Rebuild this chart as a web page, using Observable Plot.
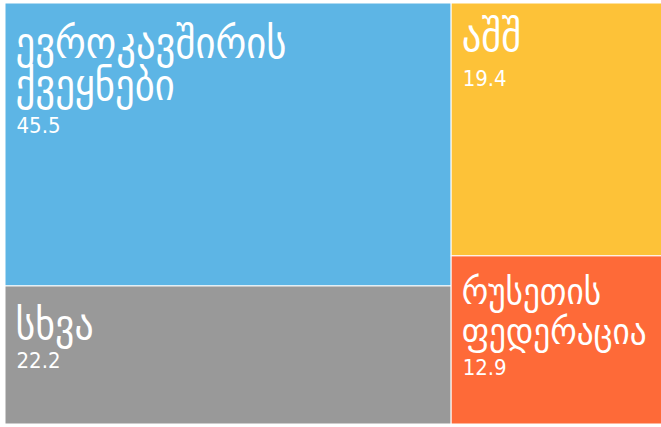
<!DOCTYPE html>
<html><head><meta charset="utf-8">
<script src="https://cdn.jsdelivr.net/npm/d3@7"></script>
<script src="https://cdn.jsdelivr.net/npm/@observablehq/plot@0.6"></script>
<style>
body{margin:0;background:#fff}
g[aria-label="value"] text{letter-spacing:-1.5px}
</style>
</head><body><div id="chart"></div>
<script>
// data
const names = ["ევროკავშირის ქვეყნები", "სხვა", "აშშ", "რუსეთის ფედერაცია"];
const labelLines = [["ევროკავშირის", "ქვეყნები"], ["სხვა"], ["აშშ"], ["რუსეთის", "ფედერაცია"]];
const values = [45.5, 22.2, 19.4, 12.9];
const columns = ["A", "A", "B", "B"];
// styles
const colors = ["#5db5e5", "#999999", "#fdc238", "#fe6a38"];
const nameSizes = [43, 42, 43, 37];
const lineGaps = [43, 43, 43, 40];
const firstBase = [54, 52, 47, 46];
const numGaps = [32, 30, 35, 33];
const numSize = 22;

const items = names.map((n, i) => ({name: n, lines: labelLines[i], value: values[i], col: columns[i], color: colors[i],
  fs: nameSizes[i], gap: lineGaps[i], base: firstBase[i], ng: numGaps[i]}));
const root = d3.hierarchy({children: d3.groups(items, d => d.col).map(([k, v]) => ({children: v}))})
  .sum(d => d.value ?? 0);
d3.treemap().tile(d3.treemapSliceDice).size([1, 1])(root);
const leaves = root.leaves().map(n => ({...n.data, x0: n.x0, x1: n.x1, y0: n.y0, y1: n.y1}));

const font = "'DejaVu Sans Condensed', 'DejaVu Sans', sans-serif";

const chart = Plot.plot({
  width: 661, height: 427, margin: 0,
  x: {domain: [0, 1], range: [5, 664], axis: null},
  y: {domain: [0, 1], range: [3, 424], axis: null},
  color: {type: "identity"},
  style: {background: "#fff"},
  marks: [
    Plot.rect(leaves, {x1: "x0", x2: "x1", y1: "y0", y2: "y1", fill: "color", stroke: "#fff", strokeWidth: 1}),
    ...leaves.map(d => Plot.text([d], {x: "x0", y: "y0", text: d => d.lines.join("\n"), dx: 10, dy: d.base - 0.71 * d.fs,
      textAnchor: "start", lineAnchor: "top", lineHeight: d.gap / d.fs, fill: "#fff", fontSize: d.fs, fontFamily: font})),
    ...leaves.map(d => Plot.text([d], {x: "x0", y: "y0", text: d => String(d.value), dx: 11,
      dy: d.base + (d.lines.length - 1) * d.gap + d.ng - 0.71 * numSize, textAnchor: "start", lineAnchor: "top",
      fill: "#fff", fontSize: numSize, fontFamily: font, ariaLabel: "value"}))
  ]
});
document.getElementById("chart").append(chart);
</script></body></html>
